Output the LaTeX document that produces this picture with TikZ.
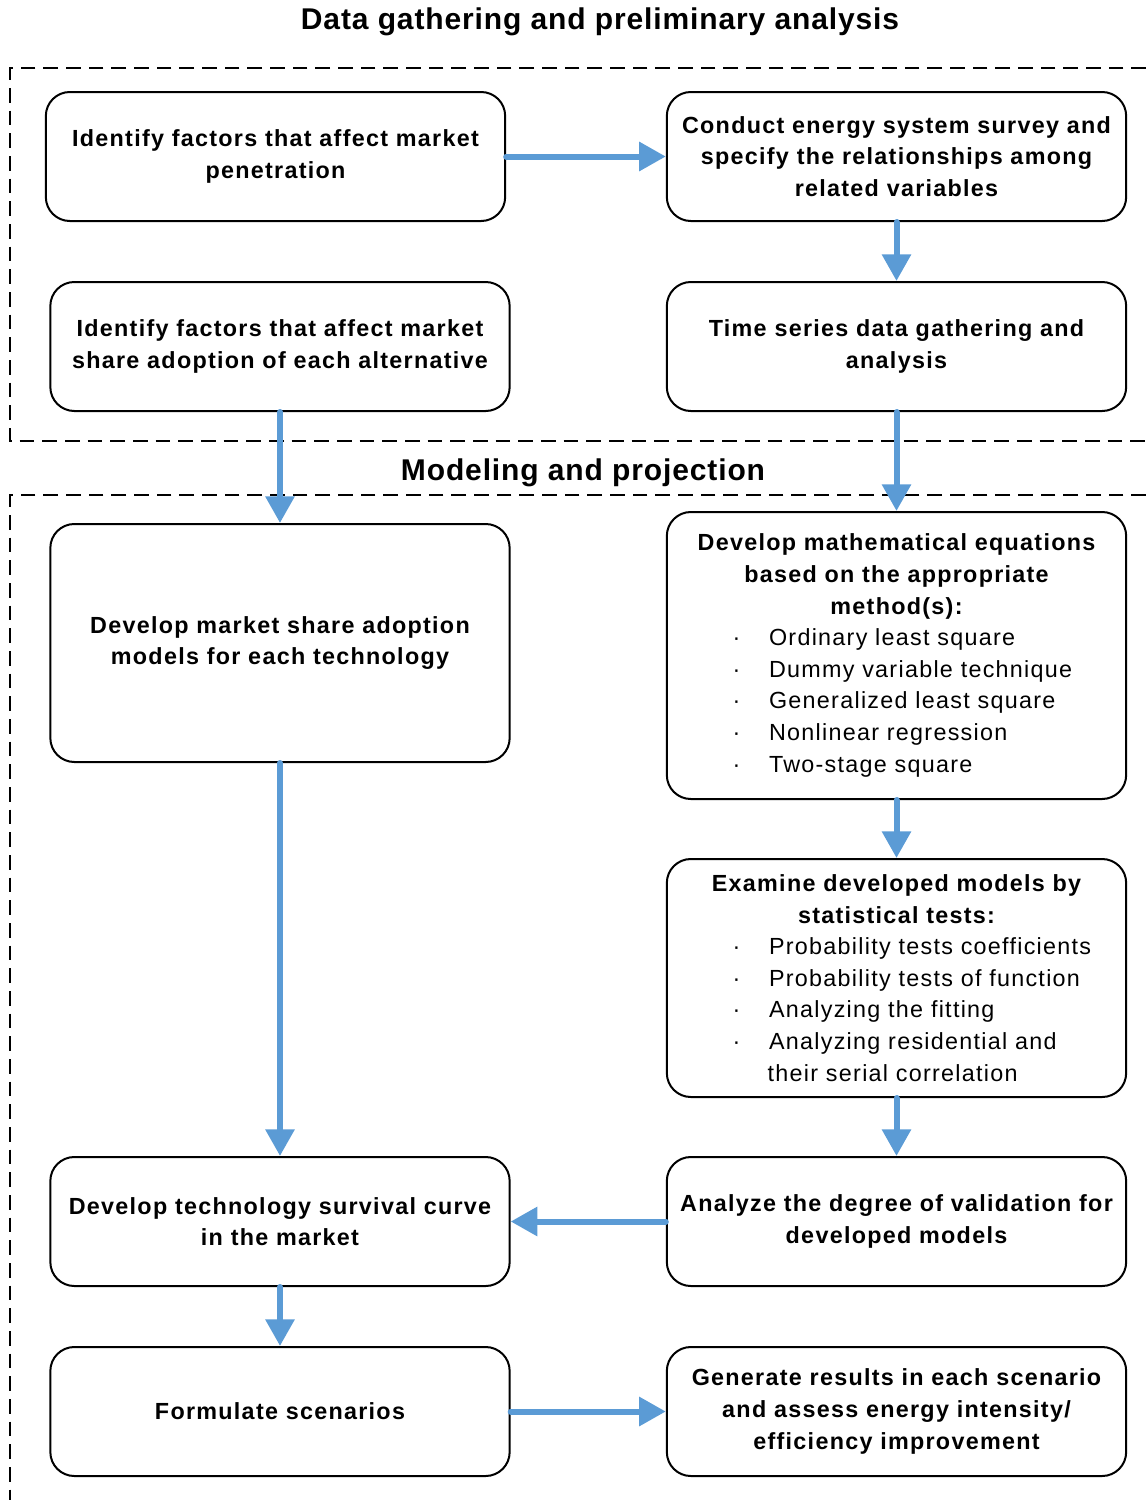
\documentclass[tikz,border=0pt]{standalone}
\usepackage{fontspec}
\setmainfont{Liberation Sans}[LetterSpace=5.5]
\newfontfamily\titlefont{Liberation Sans}[LetterSpace=2.9]
\usetikzlibrary{arrows.meta}
\definecolor{arrowblue}{HTML}{5B9BD5}
\newcommand{\itm}[1]{\makebox[330pt][l]{\hspace{42pt}\makebox[27.4pt][l]{\mdseries ·}\mdseries #1}}
\begin{document}
\begin{tikzpicture}[x=0.75pt,y=-0.75pt,
  box/.style={draw, line width=1.5pt, rounded corners=18pt, fill=white,
    minimum width=344.5pt, minimum height=96.75pt, text width=336pt, align=center,
    font=\fontsize{17.5}{23.7}\selectfont\bfseries, inner sep=0pt},
  frame/.style={draw, line width=1.1pt, dash pattern=on 11pt off 6pt},
  flow/.style={draw=arrowblue, line width=4.5pt, line cap=round,
    -{Triangle[length=20pt,width=21pt]}},
  title/.style={font=\titlefont\fontsize{22.5}{27}\selectfont\bfseries}]
\useasboundingbox (0,0) rectangle (1146,1500);
% frames
\draw[frame] (1146,68) -- (10,68) -- (10,441) -- (1146,441);
\draw[frame] (1146,495) -- (10,495) -- (10,1500);
% titles
\node[title] (t1) at (600,22) {Data gathering and preliminary analysis};
\node[title] (t2) at (583,473) {Modeling and projection};
% boxes
\node[box] (A) at (275.5,156.5) {Identify factors that affect market\\penetration};
\node[box] (B) at (896.5,156.5) {Conduct energy system survey and\\specify the relationships among\\related variables};
\node[box] (C) at (280,346.5) {Identify factors that affect market\\share adoption of each alternative};
\node[box] (D) at (896.5,346.5) {Time series data gathering and\\analysis};
\node[box, minimum height=178.5pt] (E) at (280,643) {Develop market share adoption\\models for each technology};
\node[box, minimum height=215.25pt] (F) at (896.5,655.5) {Develop mathematical equations\\based on the appropriate\\method(s):\\
  \itm{Ordinary least square}\\
  \itm{Dummy variable technique}\\
  \itm{Generalized least square}\\
  \itm{Nonlinear regression}\\
  \itm{Two-stage square}};
\node[box, minimum height=178.5pt] (G) at (896.5,978) {Examine developed models by\\statistical tests:\\
  \itm{Probability tests coefficients}\\
  \itm{Probability tests of function}\\
  \itm{Analyzing the fitting}\\
  \itm{Analyzing residential and}\\
  \makebox[336pt][l]{\hspace{71.4pt}\mdseries their serial correlation}};
\node[box] (H) at (280,1221.5) {Develop technology survival curve\\in the market};
\node[box] (I) at (896.5,1221.5) {Analyze the degree of validation for\\developed models};
\node[box] (J) at (280,1411.5) {Formulate scenarios};
\node[box] (K) at (896.5,1411.5) {Generate results in each scenario\\and assess energy intensity/\\efficiency improvement};
% arrows
\draw[flow] (A.east) -- (B.west);
\draw[flow] (B.south) -- (D.north);
\draw[flow] (C.south) -- (E.north);
\draw[flow] (D.south) -- (F.north);
\draw[flow] (F.south) -- (G.north);
\draw[flow] (G.south) -- (I.north);
\draw[flow] (E.south) -- (H.north);
\draw[flow] (I.west) -- (H.east);
\draw[flow] (H.south) -- (J.north);
\draw[flow] (J.east) -- (K.west);
\end{tikzpicture}
\end{document}
